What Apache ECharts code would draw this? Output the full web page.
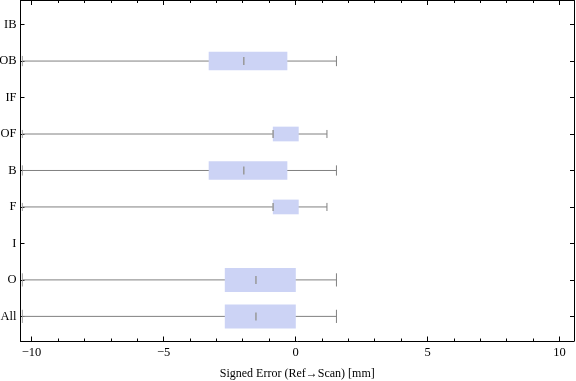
<!DOCTYPE html>
<html>
<head>
<meta charset="utf-8">
<script src="https://cdn.jsdelivr.net/npm/echarts@6/dist/echarts.min.js"></script>
<style>html,body{margin:0;padding:0;background:#fff}#c{width:576px;height:381px}</style>
</head>
<body>
<div id="c"></div>
<script>
// ---- data (bottom to top) ----
const categories = ['All', 'O', 'I', 'F', 'B', 'OF', 'IF', 'OB', 'IB'];
const mins    = [-10.35, -10.35, null, -10.35, -10.35, -10.35, null, -10.35, null];
const q1s     = [-2.68, -2.68, null, -0.86, -3.29, -0.86, null, -3.29, null];
const medians = [-1.50, -1.50, null, -0.85, -1.96, -0.85, null, -1.96, null];
const q3s     = [0.01, 0.01, null, 0.12, -0.31, 0.12, null, -0.31, null];
const maxs    = [1.55, 1.55, null, 1.19, 1.55, 1.19, null, 1.55, null];
const xMajorTicks = [-10, -5, 0, 5, 10];
const xMinorTicks = [-10,-9,-8,-7,-6,-5,-4,-3,-2,-1,0,1,2,3,4,5,6,7,8,9,10];
const yTicks = [0, 1, 2, 3, 4, 5, 6, 7, 8];
const xTitle = 'Signed Error (Ref\u2192Scan) [mm]';

// ---- styles ----
const boxHalfPx = {All: 12, O: 12, B: 9.3, OB: 9.3, F: 7.35, OF: 7.35};
const font = 'Liberation Serif';
const boxFill = '#ccd3f5';
const whiskerColor = '#808080';

const seriesData = [];
categories.forEach((c, i) => {
  if (mins[i] !== null) seriesData.push([i, mins[i], q1s[i], medians[i], q3s[i], maxs[i]]);
});

const chart = echarts.init(document.getElementById('c'), null, {renderer: 'canvas'});
const axisLineStyle = {color: '#000', width: 1};
const fmtMinus = v => String(v).replace('-', '\u2212');

chart.setOption({
  animation: false,
  grid: {left: 20.5, top: 0.5, width: 553.5, height: 340.5, containLabel: false, outerBoundsMode: 'none'},
  xAxis: [
    {type: 'value', position: 'bottom', min: -10.42, max: 10.55,
     axisLine: {show: true, onZero: false, lineStyle: axisLineStyle},
     axisTick: {show: true, inside: true, length: 4.5, customValues: xMajorTicks, lineStyle: axisLineStyle},
     axisLabel: {show: true, customValues: xMajorTicks, formatter: fmtMinus, margin: 5,
                 fontFamily: font, fontSize: 12.5, color: '#000'},
     splitLine: {show: false},
     name: xTitle, nameLocation: 'middle', nameGap: 27,
     nameTextStyle: {fontFamily: font, fontSize: 12, color: '#000'}},
    {type: 'value', position: 'bottom', min: -10.42, max: 10.55,
     axisLine: {show: false, onZero: false},
     axisTick: {show: true, inside: true, length: 2.5, customValues: xMinorTicks, lineStyle: axisLineStyle},
     axisLabel: {show: false}, splitLine: {show: false}},
    {type: 'value', position: 'top', min: -10.42, max: 10.55,
     axisLine: {show: true, onZero: false, lineStyle: axisLineStyle},
     axisTick: {show: true, inside: true, length: 4.5, customValues: xMajorTicks, lineStyle: axisLineStyle},
     axisLabel: {show: false}, splitLine: {show: false}},
    {type: 'value', position: 'top', min: -10.42, max: 10.55,
     axisLine: {show: false, onZero: false},
     axisTick: {show: true, inside: true, length: 2.5, customValues: xMinorTicks, lineStyle: axisLineStyle},
     axisLabel: {show: false}, splitLine: {show: false}}
  ],
  yAxis: [
    {type: 'value', position: 'left', min: -0.675, max: 8.66,
     axisLine: {show: true, onZero: false, lineStyle: axisLineStyle},
     axisTick: {show: true, inside: true, length: 4, customValues: yTicks, lineStyle: axisLineStyle},
     axisLabel: {show: true, customValues: yTicks, formatter: v => categories[Math.round(v)], margin: 4,
                 fontFamily: font, fontSize: 12.5, color: '#000'},
     splitLine: {show: false}},
    {type: 'value', position: 'right', min: -0.675, max: 8.66,
     axisLine: {show: true, onZero: false, lineStyle: axisLineStyle},
     axisTick: {show: true, inside: true, length: 4, customValues: yTicks, lineStyle: axisLineStyle},
     axisLabel: {show: false}, splitLine: {show: false}}
  ],
  series: [{
    type: 'custom',
    xAxisIndex: 0, yAxisIndex: 0,
    data: seriesData,
    encode: {y: 0, x: [1, 2, 3, 4, 5]},
    renderItem: function (params, api) {
      const yi = api.value(0);
      const name = categories[yi];
      const h = boxHalfPx[name];
      const capH = h * 0.55;
      const pMin = api.coord([api.value(1), yi]);
      const pQ1 = api.coord([api.value(2), yi]);
      const pMed = api.coord([api.value(3), yi]);
      const pQ3 = api.coord([api.value(4), yi]);
      const pMax = api.coord([api.value(5), yi]);
      const y = pMin[1];
      const lineSty = {stroke: whiskerColor, lineWidth: 1};
      return {
        type: 'group',
        children: [
          {type: 'line', shape: {x1: pMin[0], y1: y, x2: pMax[0], y2: y}, style: lineSty},
          {type: 'line', shape: {x1: pMin[0], y1: y - capH, x2: pMin[0], y2: y + capH},
           style: {stroke: '#a0a0a0', lineWidth: 1}},
          {type: 'line', shape: {x1: pMax[0], y1: y - capH, x2: pMax[0], y2: y + capH}, style: lineSty},
          {type: 'rect', shape: {x: pQ1[0], y: y - h, width: pQ3[0] - pQ1[0], height: 2 * h},
           style: {fill: boxFill}},
          {type: 'line', shape: {x1: pMed[0], y1: y - 4, x2: pMed[0], y2: y + 4},
           style: {stroke: '#999', lineWidth: 1.5}}
        ]
      };
    }
  }]
});
</script>
</body>
</html>
